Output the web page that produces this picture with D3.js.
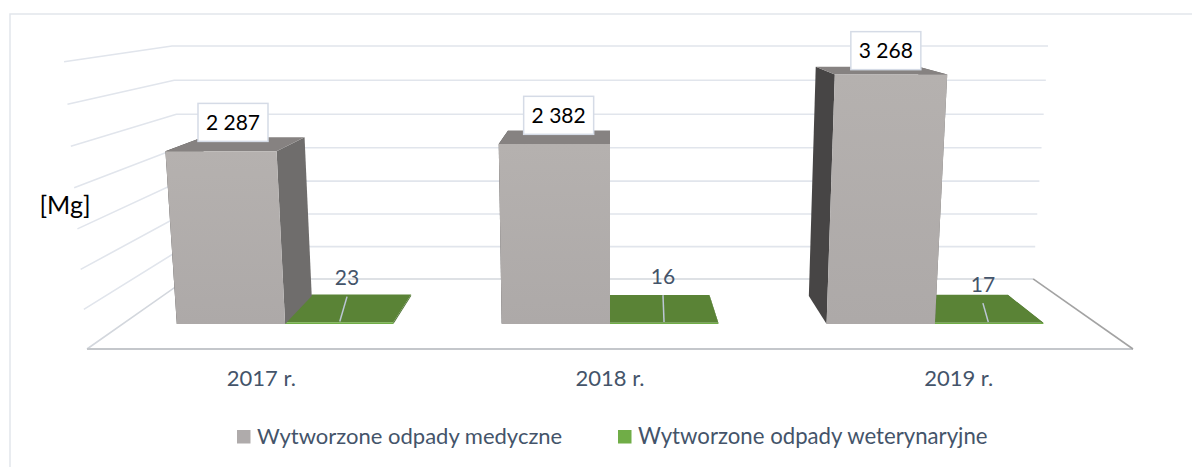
<!DOCTYPE html>
<html>
<head>
<meta charset="utf-8">
<script src="https://cdn.jsdelivr.net/npm/d3@7"></script>
<style>
    html, body { margin: 0; padding: 0; background: #fff; overflow: hidden; }
    svg { display: block; font-family: Lato, sans-serif; }
</style>
</head>
<body>
<svg id="chart" width="1192" height="467"></svg>
<script>
const years = ["2017 r.", "2018 r.", "2019 r."];
const medyczne = [2287, 2382, 3268];
const weterynaryjne = [23, 16, 17];
const seriesNames = ["Wytworzone odpady medyczne", "Wytworzone odpady weterynaryjne"];
const yTicks = [0, 500, 1000, 1500, 2000, 2500, 3000, 3500];

const svg = d3.select("#chart");

// band scales work in floor units, 0 = left wall, 1 = right end
const xScale = d3.scaleBand().domain(years).range([0, 1]).paddingInner(1 / 3).paddingOuter(1 / 6);
const xInner = d3.scaleBand().domain([0, 1]).range([0, xScale.bandwidth()]);
const yScale = d3.scaleLinear().domain([0, 3500]).range([0, 1]);

// perspective of the 3d box: u across, v up, z into the page
function project(u, v, z) {
    let w = 1 + 0.236 * z - 0.042 * v;
    return [610 + (u - 0.5) * 1046 / w, (349 - 289.9 * v - 4.2 * z) / w];
}

const barFront = 0.31, barBack = 0.716;
const line = d3.line().curve(d3.curveLinearClosed);

const defs = svg.append("defs");
const grad = defs.append("linearGradient").attr("id", "frontGrey")
    .attr("x1", 0).attr("y1", 0).attr("x2", 0).attr("y2", 1);
grad.append("stop").attr("offset", "0%").attr("stop-color", "#B5B1AF");
grad.append("stop").attr("offset", "100%").attr("stop-color", "#ADA9A8");

// chart frame, only top and left fall inside the picture
svg.append("rect").attr("x", 10).attr("y", 14).attr("width", 1300).attr("height", 600)
    .attr("fill", "#fff").attr("stroke", "#E2E6EC").attr("stroke-width", 1.5);

// back and side wall gridlines
yTicks.forEach(t => {
    let v = yScale(t);
    let pts = [project(0, v, 0), project(0, v, 1), project(1, v, 1)];
    svg.append("polyline")
        .attr("points", pts.join(" "))
        .attr("fill", "none")
        .attr("stroke", t === 0 ? "#D3D7DD" : "#E1E5EC")
        .attr("stroke-width", 1.6);
});

// floor edges
svg.append("line").datum([project(0, 0, 0), project(1, 0, 0)])
    .attr("x1", d => d[0][0]).attr("y1", d => d[0][1])
    .attr("x2", d => d[1][0]).attr("y2", d => d[1][1])
    .attr("stroke", "#C4C7CB").attr("stroke-width", 2);
svg.append("line").datum([project(1, 0, 1), project(1, 0, 0)])
    .attr("x1", d => d[0][0]).attr("y1", d => d[0][1])
    .attr("x2", d => d[1][0]).attr("y2", d => d[1][1])
    .attr("stroke", "#A3A3A3").attr("stroke-width", 1.6);

function drawBar(u0, u1, v, colors) {
    let g = svg.append("g").attr("class", "bar");
    let face = (pts, fill) => g.append("path").attr("d", line(pts)).attr("fill", fill);
    face([project(u0, 0, barFront), project(u0, v, barFront), project(u0, v, barBack), project(u0, 0, barBack)], colors.left);
    face([project(u1, 0, barFront), project(u1, v, barFront), project(u1, v, barBack), project(u1, 0, barBack)], colors.right);
    face([project(u0, v, barFront), project(u1, v, barFront), project(u1, v, barBack), project(u0, v, barBack)], colors.top);
    face([project(u0, 0, barFront), project(u1, 0, barFront), project(u1, v, barFront), project(u0, v, barFront)], colors.front);
}

const greyFaces = { left: "#474545", right: "#6F6D6C", top: "#868281", front: "url(#frontGrey)" };
const greenFaces = { left: "#3F6327", right: "#4B7030", top: "#5A8336", front: "#70AD47" };

// green first, the grey bar sits in front of it in 2019
years.forEach((year, i) => {
    let u = xScale(year);
    drawBar(u + xInner(1), u + xInner(1) + xInner.bandwidth(), yScale(weterynaryjne[i]), greenFaces);
    drawBar(u + xInner(0), u + xInner(0) + xInner.bandwidth(), yScale(medyczne[i]), greyFaces);
});

// labels were moved by hand in the original, so they need a nudge
const boxNudge = [[-4, -22], [2, -22], [6.5, -20]];
const smallNudge = [[-3, -31], [1, -33], [9, -25]];
const formatValue = d => d3.format(",")(d).replace(",", " ");

years.forEach((year, i) => {
    let u = xScale(year) + xInner(0) + xInner.bandwidth() / 2;
    let p = project(u, yScale(medyczne[i]), 0.5);
    let cx = p[0] + boxNudge[i][0], cy = p[1] + boxNudge[i][1];
    svg.append("rect")
        .attr("x", cx - 35).attr("y", cy - 19).attr("width", 70).attr("height", 38)
        .attr("fill", "#fff").attr("stroke", "#D5DBE6").attr("stroke-width", 1.5);
    svg.append("text").attr("class", "value-label")
        .attr("x", cx).attr("y", cy + 7.5)
        .attr("text-anchor", "middle").attr("font-size", 21).attr("fill", "#000")
        .text(formatValue(medyczne[i]));

    let u2 = xScale(year) + xInner(1) + xInner.bandwidth() / 2;
    let v2 = yScale(weterynaryjne[i]);
    let p2 = project(u2, v2, 0.5);
    let lx = p2[0] + smallNudge[i][0], ly = p2[1] + smallNudge[i][1];
    let end = project(u2, v2, barFront + 0.01);
    svg.append("line")
        .attr("x1", lx).attr("y1", ly + 19).attr("x2", end[0]).attr("y2", end[1])
        .attr("stroke", "#BCC6D6").attr("stroke-width", 1.5);
    svg.append("text").attr("class", "value-label")
        .attr("x", lx).attr("y", ly + 7.5)
        .attr("text-anchor", "middle").attr("font-size", 21).attr("fill", "#44546A")
        .text(weterynaryjne[i]);
});

// category axis along the front edge of the floor
const xFront = xScale.copy().range([project(0, 0, 0)[0], project(1, 0, 0)[0]]);
const xAxis = d3.axisBottom(xFront).tickSize(0).tickPadding(0);
svg.append("g")
    .attr("class", "axis x-axis")
    .attr("transform", "translate(0,349)")
    .call(xAxis)
    .call(g => g.select(".domain").remove())
    .selectAll("text")
    .attr("y", 37)
    .attr("dy", 0)
    .attr("font-family", "Lato, sans-serif")
    .attr("font-size", 22)
    .attr("fill", "#44546A");

svg.append("text")
    .attr("x", 65).attr("y", 214)
    .attr("text-anchor", "middle").attr("font-size", 25).attr("fill", "#000")
    .text("[Mg]");

// legend
const legendX = [237, 618];
const legendColors = ["#AFABAB", "#70AD47"];
const legendSize = [22, 22.2];
seriesNames.forEach((name, i) => {
    svg.append("rect")
        .attr("x", legendX[i]).attr("y", 430).attr("width", 13.5).attr("height", 13.5)
        .attr("fill", legendColors[i]);
    svg.append("text")
        .attr("x", legendX[i] + 20).attr("y", 444)
        .attr("font-size", legendSize[i]).attr("fill", "#44546A")
        .text(name);
});
</script>
</body>
</html>
